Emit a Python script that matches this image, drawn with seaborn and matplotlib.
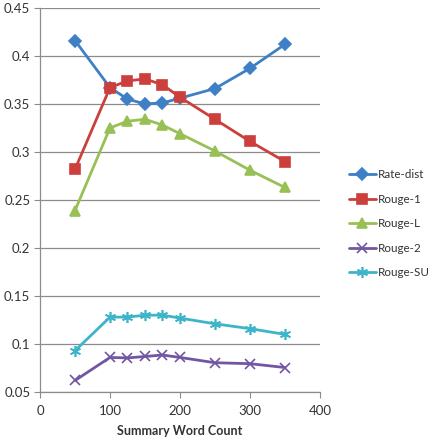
import pandas as pd
import matplotlib
matplotlib.use('Agg')
import matplotlib.pyplot as plt
import matplotlib.ticker as ticker
import seaborn as sns

# --- data ---
word_count = [50, 100, 125, 150, 175, 200, 250, 300, 350]
rate_dist = [0.416, 0.367, 0.355, 0.350, 0.351, 0.356, 0.366, 0.387, 0.412]
rouge_1 = [0.282, 0.367, 0.374, 0.376, 0.370, 0.357, 0.334, 0.311, 0.290]
rouge_l = [0.239, 0.325, 0.332, 0.334, 0.328, 0.319, 0.301, 0.281, 0.263]
rouge_2 = [0.062, 0.086, 0.0855, 0.087, 0.0885, 0.086, 0.0805, 0.0795, 0.0755]
rouge_su = [0.093, 0.128, 0.128, 0.130, 0.130, 0.127, 0.121, 0.116, 0.110]

series = ['Rate-dist', 'Rouge-1', 'Rouge-L', 'Rouge-2', 'Rouge-SU']
colors = ['#3F7FC6', '#CC3F3C', '#98C055', '#7356A3', '#3DB4C9']
markers = ['D', 's', '^', 'x', (6, 2, 0)]
msizes = [6, 7, 7, 7, 8]

frames = []
for name, vals in zip(series, [rate_dist, rouge_1, rouge_l, rouge_2, rouge_su]):
    frames.append(pd.DataFrame({'Summary Word Count': word_count, 'score': vals, 'metric': name}))
df = pd.concat(frames, ignore_index=True)

sns.set_style('white')
plt.rcParams['font.family'] = ['Lato', 'DejaVu Sans']

fig = plt.figure(figsize=(4.40, 4.38), dpi=100)
ax = fig.add_axes([0.091, 0.105, 0.636, 0.877])

sns.lineplot(data=df, x='Summary Word Count', y='score', hue='metric',
             hue_order=series, palette=colors, linewidth=2.0, legend=False, ax=ax)

# Excel-style markers, set per line after seaborn draws them
for line, c, m, ms in zip(ax.lines, colors, markers, msizes):
    line.set_color(c)
    line.set_marker(m)
    line.set_markeredgecolor(c)
    line.set_markerfacecolor(c)
    line.set_markersize(ms)
    line.set_markeredgewidth(1.2)

ax.set_xlim(0, 400)
ax.set_ylim(0.05, 0.45)
ax.xaxis.set_major_locator(ticker.MultipleLocator(100))
ax.yaxis.set_major_locator(ticker.MultipleLocator(0.05))
ax.yaxis.set_major_formatter(ticker.FuncFormatter(lambda v, pos: '{:g}'.format(round(v, 2))))
ax.grid(axis='y', color='#8C8C8C', linewidth=0.9)
ax.set_axisbelow(True)
for side in ['top', 'right']:
    ax.spines[side].set_visible(False)
for side in ['left', 'bottom']:
    ax.spines[side].set_color('#8C8C8C')
    ax.spines[side].set_linewidth(0.9)
ax.tick_params(axis='both', length=4, color='#8C8C8C', labelsize=9.5, labelcolor='#333333',
               direction='out', left=True, bottom=True, pad=3)
ax.tick_params(axis='x', pad=5)
ax.set_ylabel('')
ax.set_xlabel('Summary Word Count', fontsize=9, fontweight='bold', color='#333333', labelpad=6)

fig.legend(ax.lines, series, loc='center left', bbox_to_anchor=(0.772, 0.489),
           frameon=False, fontsize=8.4, handlelength=2.3, handletextpad=0.15,
           labelspacing=1.15, borderpad=0.3, labelcolor='#333333')

fig.savefig('out.png', dpi=100)
